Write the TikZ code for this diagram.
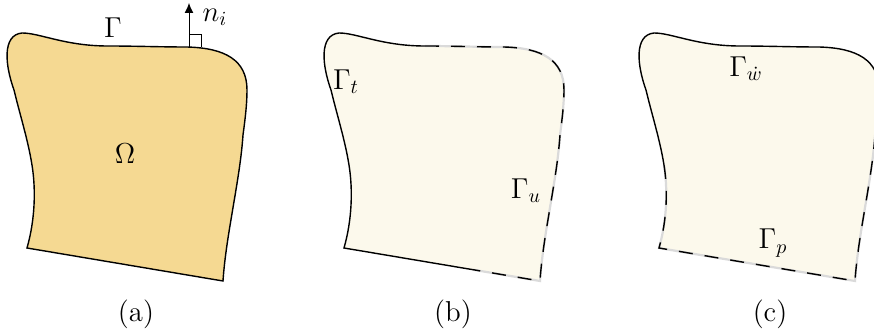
\documentclass[tikz,border=0pt]{standalone}
\usetikzlibrary{arrows.meta}
\definecolor{sand}{RGB}{245,217,146}
\definecolor{pale}{RGB}{252,249,236}
\definecolor{gapgray}{RGB}{218,218,218}
\tikzset{
  bnd/.style={draw=black, line width=0.7pt},
  gbase/.style={draw=gapgray, line width=1.1pt},
  dsh/.style={draw=black, line width=0.7pt, dash pattern=on 7pt off 6pt},
  lbl/.style={inner sep=0pt, font=\Large},
  captext/.style={inner sep=0pt, font=\Large}
}
% full outline (pixel coordinates)
\def\outline{(27,248) .. controls (35,220) and (36,190) .. (32,165) .. controls (28,140) and (20,115) .. (14,90) .. controls (5,65) and (2,35) .. (22,33) .. controls (40,33) and (65,46) .. (108,46) .. controls (135,46) and (160,47) .. (187,47) .. controls (225,48) and (247,60) .. (247,90) .. controls (247,105) and (245,120) .. (243,135) .. controls (240,180) and (226,235) .. (223,281) -- cycle}
% (b) segments
\def\bsolid{(156,269.7) -- (27,248) .. controls (35,220) and (36,190) .. (32,165) .. controls (28,140) and (20,115) .. (14,90) .. controls (5,65) and (2,35) .. (22,33) .. controls (40,33) and (65,46) .. (108,46)}
\def\bdash{(108,46) .. controls (135,46) and (160,47) .. (187,47) .. controls (225,48) and (247,60) .. (247,90) .. controls (247,105) and (245,120) .. (243,135) .. controls (240,180) and (226,235) .. (223,281) -- (156,269.7)}
% (c) segments
\def\csolid{(32,165) .. controls (28,140) and (20,115) .. (14,90) .. controls (5,65) and (2,35) .. (22,33) .. controls (40,33) and (65,46) .. (108,46) .. controls (135,46) and (160,47) .. (187,47) .. controls (225,48) and (247,60) .. (247,90) .. controls (247,105) and (245,120) .. (243,135)}
\def\cdash{(243,135) .. controls (240,180) and (226,235) .. (223,281) -- (27,248) .. controls (35,220) and (36,190) .. (32,165)}
\begin{document}
\begin{tikzpicture}[x=0.5pt, y=-0.5pt]
\useasboundingbox (0,0) rectangle (874,331);
\clip (0,0) rectangle (874,331);
% ---------- (a) ----------
\fill[sand] \outline;
\draw[bnd] \outline;
\coordinate (nbase) at (189,47);
\coordinate (ntip) at (189,3);
\draw[line width=0.5pt, -{Latex[length=5pt,width=4.5pt]}] (nbase) -- (ntip);
\draw[line width=0.5pt] (189,35) -| (201,47);
\node[lbl] (ni) at (215,17) {$n_i$};
\node[lbl] (gam) at (113,28) {$\Gamma$};
\node[lbl] (om) at (125,154) {$\Omega$};
\node[captext] (capa) at (136,314) {(a)};
% ---------- (b) ----------
\begin{scope}[xshift=158.5pt]
\fill[pale] \outline;
\draw[bnd] \bsolid;
\draw[gbase] \bdash;
\draw[dsh] \bdash;
\node[lbl] (gt) at (29,82) {$\Gamma_t$};
\node[lbl] (gu) at (209,191) {$\Gamma_u$};
\node[captext] (capb) at (136,314) {(b)};
\end{scope}
% ---------- (c) ----------
\begin{scope}[xshift=316pt]
\fill[pale] \outline;
\draw[bnd] \csolid;
\draw[gbase] \cdash;
\draw[dsh] \cdash;
\node[lbl] (gw) at (114,69) {$\Gamma_{\dot{w}}$};
\node[lbl] (gp) at (141,243) {$\Gamma_p$};
\node[captext] (capc) at (138,314) {(c)};
\end{scope}
\end{tikzpicture}
\end{document}
